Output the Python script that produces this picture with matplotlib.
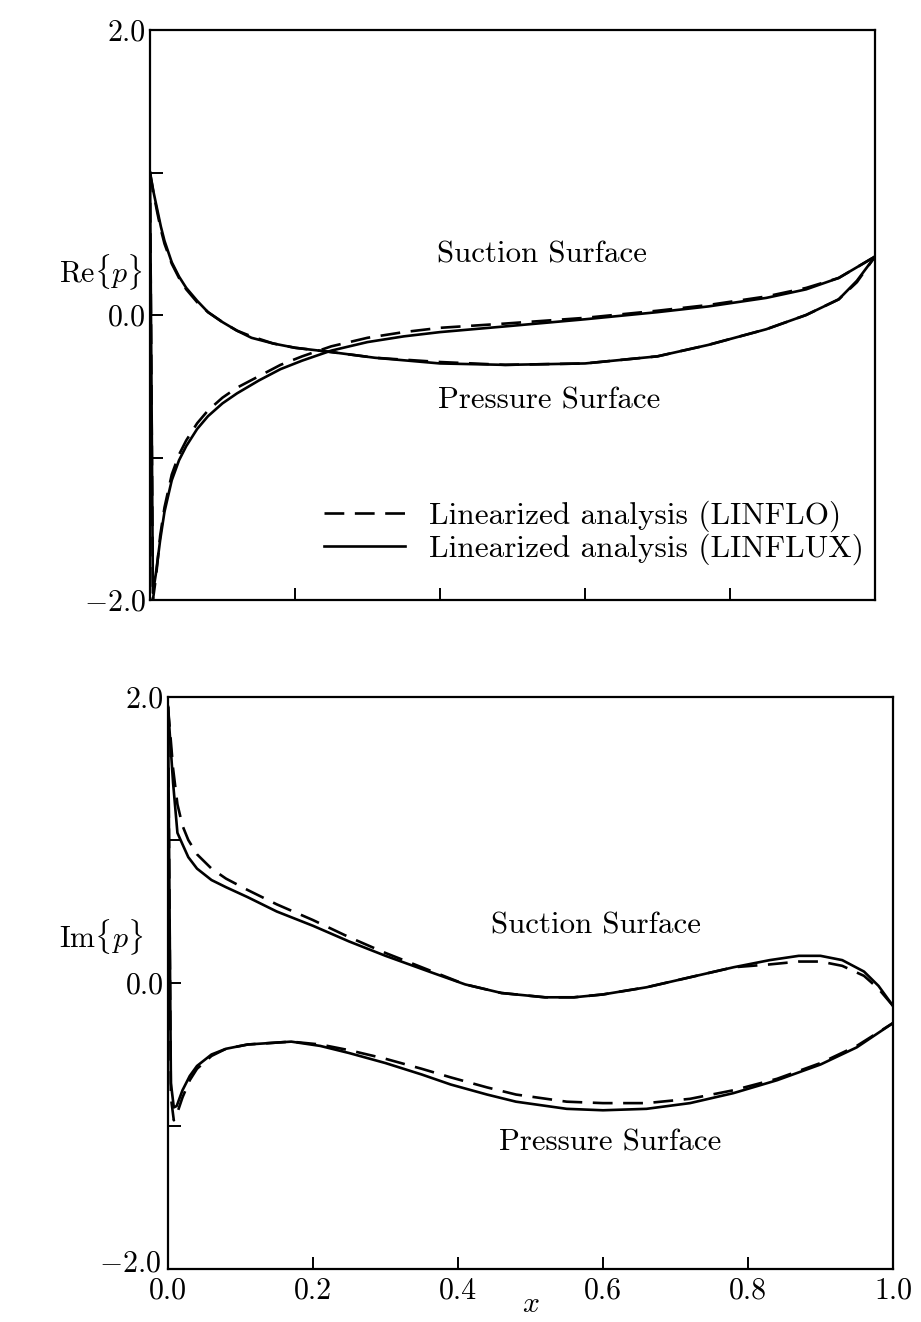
import matplotlib
matplotlib.use("Agg")
import matplotlib.pyplot as plt
from matplotlib.lines import Line2D
from matplotlib.transforms import ScaledTranslation

plt.rcParams['font.family'] = ['cmr10', 'DejaVu Serif']
plt.rcParams['mathtext.fontset'] = 'cm'
plt.rcParams['axes.unicode_minus'] = False

# Re{p}: suction surface (starts at LE, dips to -2, rises)
re_suc_x = [0.0, 0.004, 0.008, 0.014, 0.02, 0.03, 0.04, 0.05, 0.065, 0.08, 0.1, 0.12, 0.15,
            0.18, 0.21, 0.25, 0.3, 0.35, 0.4, 0.49, 0.6, 0.7, 0.77, 0.85, 0.905, 0.95, 1.0]
re_suc_lflo = [1.0, -2.0, -1.85, -1.55, -1.35, -1.12, -0.98, -0.88, -0.76, -0.67, -0.58, -0.51, -0.43,
               -0.35, -0.29, -0.22, -0.16, -0.12, -0.09, -0.06, -0.02, 0.03, 0.07, 0.13, 0.19, 0.26, 0.41]
re_suc_lflux = [1.0, -1.95, -1.82, -1.58, -1.38, -1.16, -1.02, -0.92, -0.8, -0.71, -0.62, -0.55, -0.46,
                -0.38, -0.32, -0.25, -0.19, -0.15, -0.12, -0.08, -0.03, 0.02, 0.06, 0.12, 0.18, 0.26, 0.41]
# Re{p}: pressure surface (decays from LE)
re_pre_x = [0.0, 0.005, 0.01, 0.015, 0.02, 0.03, 0.04, 0.05, 0.065, 0.08, 0.1, 0.12, 0.14, 0.17,
            0.2, 0.25, 0.31, 0.4, 0.49, 0.6, 0.7, 0.77, 0.85, 0.905, 0.95, 0.975, 1.0]
re_pre_lflo = [1.0, 0.85, 0.72, 0.6, 0.5, 0.36, 0.26, 0.18, 0.09, 0.02, -0.05, -0.11, -0.15, -0.2,
               -0.23, -0.26, -0.3, -0.33, -0.35, -0.34, -0.29, -0.21, -0.1, 0.0, 0.11, 0.23, 0.41]
re_pre_lflux = [1.0, 0.86, 0.74, 0.62, 0.52, 0.37, 0.27, 0.19, 0.1, 0.02, -0.05, -0.11, -0.16, -0.2,
                -0.23, -0.26, -0.3, -0.34, -0.35, -0.34, -0.29, -0.21, -0.1, 0.0, 0.11, 0.24, 0.41]

# Im{p}: suction surface
im_suc_x = [0.0, 0.003, 0.007, 0.013, 0.02, 0.028, 0.04, 0.06, 0.08, 0.11, 0.15, 0.2, 0.25,
            0.3, 0.36, 0.41, 0.46, 0.52, 0.56, 0.6, 0.66, 0.72, 0.78, 0.83, 0.87, 0.9, 0.93,
            0.96, 0.98, 1.0]
im_suc_lflo = [1.93, 1.75, 1.5, 1.25, 1.1, 1.0, 0.9, 0.8, 0.73, 0.65, 0.55, 0.44, 0.32,
               0.21, 0.09, -0.01, -0.07, -0.1, -0.1, -0.08, -0.03, 0.04, 0.11, 0.13, 0.15, 0.15, 0.12,
               0.05, -0.04, -0.16]
im_suc_lflux = [1.93, 1.7, 1.4, 1.05, 0.97, 0.88, 0.8, 0.72, 0.67, 0.6, 0.5, 0.4, 0.29,
                0.19, 0.08, -0.01, -0.07, -0.1, -0.1, -0.08, -0.03, 0.04, 0.11, 0.16, 0.19, 0.19, 0.16,
                0.08, -0.02, -0.16]
# Im{p}: pressure surface
im_pre_x = [0.0, 0.004, 0.008, 0.012, 0.02, 0.03, 0.04, 0.06, 0.08, 0.11, 0.17, 0.21, 0.25, 0.3,
            0.35, 0.39, 0.44, 0.48, 0.55, 0.6, 0.66, 0.72, 0.78, 0.84, 0.9, 0.95, 1.0]
im_pre_lflo = [1.93, -0.8, -0.96, -0.92, -0.8, -0.68, -0.6, -0.51, -0.46, -0.43, -0.41, -0.43, -0.47, -0.53,
               -0.6, -0.66, -0.73, -0.78, -0.83, -0.84, -0.84, -0.81, -0.75, -0.67, -0.56, -0.44, -0.28]
im_pre_lflux = [1.93, -0.7, -0.87, -0.86, -0.75, -0.65, -0.58, -0.5, -0.46, -0.43, -0.41, -0.44, -0.49, -0.56,
                -0.64, -0.71, -0.78, -0.83, -0.88, -0.89, -0.88, -0.84, -0.77, -0.68, -0.57, -0.45, -0.28]

xticks = [0.0, 0.2, 0.4, 0.6, 0.8, 1.0]
xticklabels = ['0.0', '0.2', '0.4', '0.6', '0.8', '1.0']
yticks = [-2.0, -1.0, 0.0, 1.0, 2.0]
yticklabels = [r'$-2.0$', '', '0.0', '', '2.0']

FS = 21.5
FS_TXT = 22.2
FS_LEG = 22.5
LW = 1.9
DASH = (7.5, 4)

fig = plt.figure(figsize=(9.21, 13.22), dpi=100)
ax1 = fig.add_axes([150 / 921, 1 - 600 / 1322, 725 / 921, 570 / 1322])
ax2 = fig.add_axes([168 / 921, 1 - 1269 / 1322, 725 / 921, 572 / 1322])


def style(ax, show_x):
    ax.set_xlim(0, 1)
    ax.set_ylim(-2, 2)
    for s in ax.spines.values():
        s.set_linewidth(1.6)
    ax.set_xticks(xticks)
    ax.set_yticks(yticks)
    ax.set_yticklabels(yticklabels, fontsize=FS)
    if show_x:
        ax.set_xticklabels(xticklabels, fontsize=FS)
    else:
        ax.set_xticklabels([])
    ax.tick_params(direction='in', length=9, width=1.4, pad=3)
    ax.tick_params(axis='x', pad=6)


ax1.plot(re_suc_x, re_suc_lflo, color='black', lw=LW, dashes=DASH)
ax1.plot(re_suc_x, re_suc_lflux, color='black', lw=LW)
ax1.plot(re_pre_x, re_pre_lflo, color='black', lw=LW, dashes=DASH)
ax1.plot(re_pre_x, re_pre_lflux, color='black', lw=LW)
style(ax1, False)
ax1.text(0.54, 0.42, 'Suction Surface', fontsize=FS_TXT, ha='center', va='center')
ax1.text(0.55, -0.6, 'Pressure Surface', fontsize=FS_TXT, ha='center', va='center')
ax1.text(-0.125, 0.575, r'Re$\{p\}$', fontsize=FS, ha='left', va='center', transform=ax1.transAxes)
handles = [Line2D([], [], color='black', lw=LW, dashes=DASH),
           Line2D([], [], color='black', lw=LW)]
ax1.legend(handles, ['Linearized analysis (LINFLO)', 'Linearized analysis (LINFLUX)'],
           loc='upper left', bbox_to_anchor=(0.24, 0.175), frameon=False, fontsize=FS_LEG,
           handlelength=2.6, handletextpad=0.75, labelspacing=0.05, borderpad=0.0,
           borderaxespad=0.0)

ax2.plot(im_suc_x, im_suc_lflo, color='black', lw=LW, dashes=DASH)
ax2.plot(im_suc_x, im_suc_lflux, color='black', lw=LW)
ax2.plot(im_pre_x, im_pre_lflo, color='black', lw=LW, dashes=DASH)
ax2.plot(im_pre_x, im_pre_lflux, color='black', lw=LW)
style(ax2, True)
ax2.text(0.59, 0.4, 'Suction Surface', fontsize=FS_TXT, ha='center', va='center')
ax2.text(0.61, -1.12, 'Pressure Surface', fontsize=FS_TXT, ha='center', va='center')
ax2.text(-0.15, 0.58, r'Im$\{p\}$', fontsize=FS, ha='left', va='center', transform=ax2.transAxes)
ax2.set_xlabel(r'$x$', fontsize=FS, labelpad=-10)

# lift the bottom -2.0 label a little so it clears the 0.0 below it
low = ax2.get_yticklabels()[0]
low.set_transform(low.get_transform() + ScaledTranslation(-2 / 72, 6 / 72, fig.dpi_scale_trans))

fig.savefig('out.png', dpi=100)
